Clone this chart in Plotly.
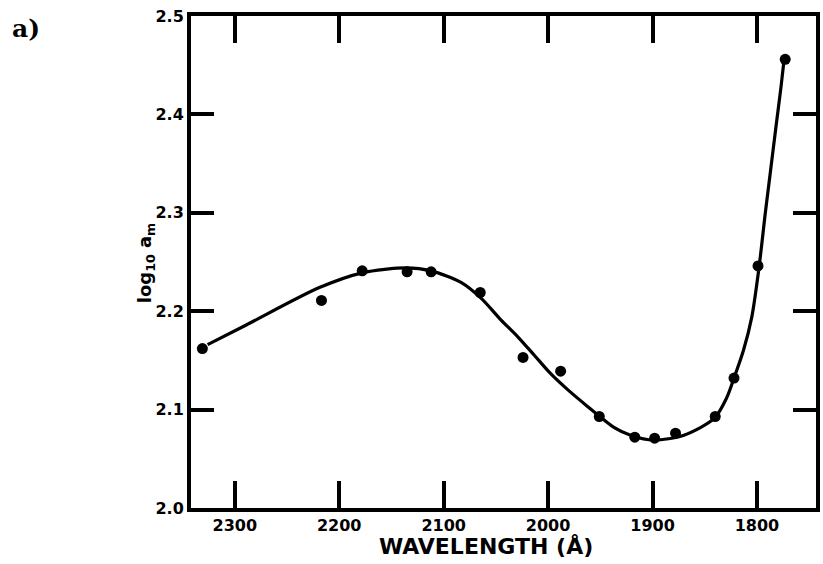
import plotly.graph_objects as go

# Measured points (wavelength in Angstrom, log10 a_m)
pt_wavelength = [2331, 2217, 2178, 2135, 2112, 2065, 2024, 1988, 1951, 1917, 1898, 1878, 1840, 1822, 1799, 1773]
pt_value = [2.162, 2.211, 2.241, 2.240, 2.240, 2.219, 2.153, 2.139, 2.093, 2.072, 2.071, 2.076, 2.093, 2.132, 2.246, 2.456]

# Smooth fitted curve
curve_wavelength = [2326, 2289, 2219, 2178, 2136, 2112, 2083, 2064, 2045, 2029, 2013, 1998, 1981,
                    1962, 1937, 1921, 1899, 1870, 1841, 1829, 1822, 1813, 1805, 1798, 1792,
                    1787, 1782, 1777, 1774]
curve_value = [2.166, 2.186, 2.224, 2.239, 2.244, 2.241, 2.229, 2.213, 2.191, 2.174, 2.155, 2.137, 2.120,
               2.103, 2.082, 2.074, 2.069, 2.074, 2.091, 2.112, 2.132, 2.160, 2.194, 2.245, 2.300,
               2.343, 2.386, 2.428, 2.456]

x_ticks = [2300, 2200, 2100, 2000, 1900, 1800]
x_tick_labels = ["2300", "2200", "2100", "2000", "1900", "1800"]
y_ticks = [2.0, 2.1, 2.2, 2.3, 2.4, 2.5]
y_tick_labels = ["2.0", "2.1", "2.2", "2.3", "2.4", "2.5"]

W, H = 823, 564
L, R, T, B = 191, 3, 16, 56
pw, ph = W - L - R, H - T - B

def px_x(p):
    return (p - L) / pw

def px_y(p):
    return 1 - (p - T) / ph

fig = go.Figure()
fig.add_trace(go.Scatter(
    x=curve_wavelength, y=curve_value, mode="lines",
    line=dict(color="black", width=3.2, shape="spline", smoothing=0.8),
    hoverinfo="skip", showlegend=False))
fig.add_trace(go.Scatter(
    x=pt_wavelength, y=pt_value, mode="markers",
    marker=dict(color="black", size=11),
    showlegend=False))

axis_common = dict(
    showline=True, linecolor="black", linewidth=4, mirror="ticks",
    ticks="inside", tickcolor="black", tickwidth=3.5,
    showgrid=False, zeroline=False,
)

fig.update_xaxes(range=[2341.9, 1743.5], tickvals=x_ticks, ticktext=x_tick_labels,
                 ticklen=27,
                 tickfont=dict(family="DejaVu Sans", size=16, color="black", weight="bold"),
                 **axis_common)
fig.update_yaxes(range=[2.0, 2.5], tickvals=y_ticks, ticktext=y_tick_labels,
                 ticklen=23,
                 tickfont=dict(family="DejaVu Sans", size=16, color="black", weight="bold"),
                 **axis_common)

fig.add_annotation(text="a)", xref="paper", yref="paper", x=px_x(9), y=px_y(28),
                   xanchor="left", yanchor="middle", showarrow=False,
                   font=dict(family="DejaVu Serif", size=25, color="black", weight="bold"))
fig.add_annotation(text="WAVELENGTH (Å)", xref="paper", yref="paper", x=px_x(488), y=px_y(546),
                   xanchor="center", yanchor="middle", showarrow=False,
                   font=dict(family="DejaVu Sans", size=22, color="black", weight="bold"))
fig.add_annotation(text="log<sub>10</sub> a<sub>m</sub>", xref="paper", yref="paper", x=px_x(146), y=px_y(263),
                   xanchor="center", yanchor="middle", textangle=-90, showarrow=False,
                   font=dict(family="DejaVu Sans", size=18, color="black", weight="bold"))

fig.update_layout(
    width=W, height=H, margin=dict(l=L, r=R, t=T, b=B),
    paper_bgcolor="white", plot_bgcolor="white",
)

fig.write_html("out.html")
